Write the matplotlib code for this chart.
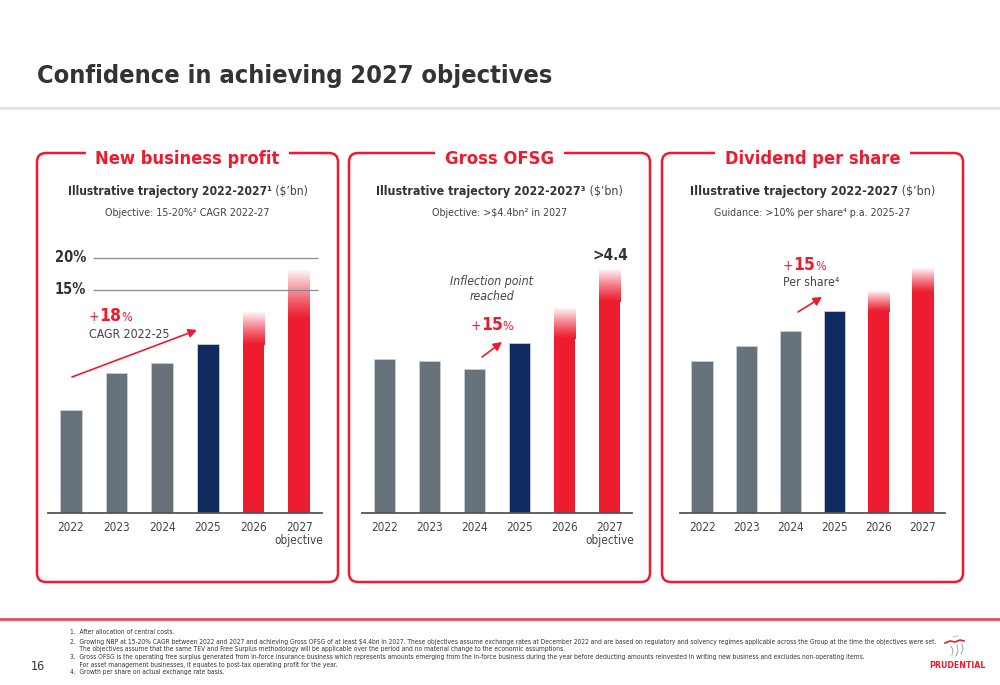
import os
import numpy as np
import matplotlib
matplotlib.use('Agg')
import matplotlib.pyplot as plt
from matplotlib import font_manager as fm
from matplotlib.patches import FancyBboxPatch, FancyArrowPatch
from matplotlib.lines import Line2D
from matplotlib.transforms import IdentityTransform
from matplotlib.colors import to_rgb

# ---------------- data ----------------
years = ['2022', '2023', '2024', '2025', '2026', '2027']
nbp_labels = ['2022', '2023', '2024', '2025', '2026', '2027\nobjective']
ofsg_labels = ['2022', '2023', '2024', '2025', '2026', '2027\nobjective']
dps_labels = ['2022', '2023', '2024', '2025', '2026', '2027']
nbp_values = [2.2, 3.0, 3.2, 3.6, 4.3, 5.2]          # $bn (illustrative)
ofsg_values = [2.79, 2.75, 2.62, 3.08, 3.71, 4.4]    # $bn (illustrative)
dps_values = [19.7, 21.7, 23.6, 26.2, 28.8, 31.8]    # (illustrative)
nbp_cagr_levels = [5.45, 4.77]
nbp_cagr_labels = ['20%', '15%']
bar_kind = ['actual', 'actual', 'actual', 'current', 'target', 'target']

footnotes = [
    "1.  After allocation of central costs.",
    "2.  Growing NBP at 15-20% CAGR between 2022 and 2027 and achieving Gross OFSG of at least $4.4bn in 2027. These objectives assume exchange rates at December 2022 and are based on regulatory and solvency regimes applicable across the Group at the time the objectives were set.",
    "     The objectives assume that the same TEV and Free Surplus methodology will be applicable over the period and no material change to the economic assumptions.",
    "3.  Gross OFSG is the operating free surplus generated from in-force insurance business which represents amounts emerging from the in-force business during the year before deducting amounts reinvested in writing new business and excludes non-operating items.",
    "     For asset management businesses, it equates to post-tax operating profit for the year.",
    "4.  Growth per share on actual exchange rate basis.",
]

# ---------------- style ----------------
W, H = 1000, 685
RED = '#ED1B2E'
GREY = '#67727A'
NAVY = '#0E2A5E'
DARK = '#333333'
MID = '#444444'
kind_color = {'actual': GREY, 'current': NAVY, 'target': RED}

FAM = 'DejaVu Sans'
STRETCH = 'normal'
for f in fm.fontManager.ttflist:
    if 'DejaVuSansCondensed' in os.path.basename(f.fname):
        FAM = f.name
        STRETCH = 'condensed'
        break
plt.rcParams['font.family'] = [FAM, 'DejaVu Sans']
plt.rcParams['font.stretch'] = STRETCH

fig = plt.figure(figsize=(10, 6.85), dpi=100)
fig.patch.set_facecolor('white')
R = fig.canvas.get_renderer()


def fy(y):
    return 1 - y / H


def text(x, y, s, **kw):
    kw.setdefault('fontstretch', STRETCH)
    return fig.text(x / W, fy(y), s, **kw)


def width(t):
    return t.get_window_extent(R).width


def fit(t, w):
    t.set_fontsize(t.get_fontsize() * w / width(t))
    return t


def mixed(x, y, parts, ha='center'):
    ts = [text(0, y, s, va='baseline', **kw) for s, kw in parts]
    ws = [width(t) for t in ts]
    x0 = x - sum(ws) / 2 if ha == 'center' else x
    for t, w in zip(ts, ws):
        t.set_x(x0 / W)
        x0 += w
    return ts


def arrow(p0, p1):
    a = FancyArrowPatch((p0[0], H - p0[1]), (p1[0], H - p1[1]),
                        transform=IdentityTransform(),
                        arrowstyle='-|>,head_length=5,head_width=2.6',
                        color=RED, lw=1.2, shrinkA=0, shrinkB=0,
                        mutation_scale=1)
    fig.add_artist(a)


def pxline(xs, ys, **kw):
    fig.add_artist(Line2D([x / W for x in xs], [fy(y) for y in ys], **kw))


# ---------------- header ----------------
t = text(37, 83, 'Confidence in achieving 2027 objectives', fontsize=20,
         fontweight='bold', color=DARK, va='baseline')
fit(t, 518)
pxline([0, W], [108, 108], color='#DFE4E8', lw=2)

# ---------------- panels ----------------
panels = [
    dict(box=(37, 153, 338, 582), title='New business profit', title_w=185,
         sub=('Illustrative trajectory 2022-2027\u00b9', " ($\u2019bn)"), sub_w=202,
         obj='Objective: 15-20%\u00b2 CAGR 2022-27', obj_w=166,
         ax=(48, 322), values=nbp_values, labels=nbp_labels, ymax=5.83,
         fade=[0, 0, 0, 0, 33, 50]),
    dict(box=(349, 153, 650, 582), title='Gross OFSG', title_w=109,
         sub=('Illustrative trajectory 2022-2027\u00b3', " ($\u2019bn)"), sub_w=209,
         obj='Objective: >$4.4bn\u00b2 in 2027', obj_w=136,
         ax=(362, 632), values=ofsg_values, labels=ofsg_labels, ymax=4.95,
         fade=[0, 0, 0, 0, 31, 32]),
    dict(box=(662, 153, 963, 582), title='Dividend per share', title_w=176,
         sub=('Illustrative trajectory 2022-2027', " ($\u2019bn)"), sub_w=206,
         obj='Guidance: >10% per share\u2074 p.a. 2025-27', obj_w=197,
         ax=(680, 945), values=dps_values, labels=dps_labels, ymax=35.45,
         fade=[0, 0, 0, 0, 21, 25]),
]

AX_TOP, AX_BOT = 240, 513
axes = []
for p in panels:
    x0, y0, x1, y1 = p['box']
    cx = (x0 + x1) / 2
    bx = FancyBboxPatch((x0, H - y1), x1 - x0, y1 - y0,
                        boxstyle='round,pad=0,rounding_size=9',
                        transform=IdentityTransform(), fc='none', ec=RED, lw=1.8,
                        zorder=1)
    fig.add_artist(bx)
    tt = text(cx, 164, p['title'], fontsize=15, fontweight='bold', color=RED,
              ha='center', va='baseline', zorder=5,
              bbox=dict(fc='white', ec='none', pad=8))
    fit(tt, p['title_w'])
    # subtitle
    tb = text(0, 195, p['sub'][0], fontsize=10, fontweight='bold', color=DARK)
    fs = 10 * p['sub_w'] / width(tb)
    tb.remove()
    mixed(cx, 195, [(p['sub'][0], dict(fontsize=fs, fontweight='bold', color=DARK)),
                    (p['sub'][1], dict(fontsize=fs, color=MID))])
    to = text(cx, 216, p['obj'], fontsize=8, color=MID, ha='center', va='baseline')
    fit(to, p['obj_w'])

    # chart axes
    ax = fig.add_axes([p['ax'][0] / W, fy(AX_BOT), (p['ax'][1] - p['ax'][0]) / W,
                       (AX_BOT - AX_TOP) / H])
    ax.patch.set_alpha(0)
    ymax = p['ymax']
    unit = ymax / (AX_BOT - AX_TOP)
    bw = 0.48
    for i, (v, k) in enumerate(zip(p['values'], bar_kind)):
        c = kind_color[k]
        if k == 'target':
            fade = p['fade'][i] * unit
            ax.bar(i, v - fade, width=bw, color=c, zorder=2)
            n = 96
            rgba = np.zeros((n, 1, 4))
            rgba[..., :3] = to_rgb(c)
            s = np.linspace(0, 1, n)
            rgba[:, 0, 3] = 1.0 - 0.96 * s ** 1.2
            ax.imshow(rgba, extent=(i - bw / 2, i + bw / 2, v - fade, v),
                      origin='lower', aspect='auto', interpolation='bilinear',
                      zorder=2)
        else:
            ax.bar(i, v, width=bw, color=c, edgecolor='#C9CED2', lw=0.6, zorder=2)
    ax.set_xlim(-0.5, 5.5)
    ax.set_ylim(0, ymax)
    ax.set_aspect('auto')
    for sp in ['top', 'left', 'right']:
        ax.spines[sp].set_visible(False)
    ax.spines['bottom'].set_color('#555555')
    ax.spines['bottom'].set_linewidth(1.3)
    ax.spines['bottom'].set_zorder(3)
    ax.set_yticks([])
    ax.set_xticks(range(len(p['labels'])))
    ax.set_xticklabels(p['labels'], fontsize=8.5, color=MID, linespacing=1.0,
                       fontstretch=STRETCH)
    ax.tick_params(axis='x', length=0, pad=5.5)
    axes.append(ax)

# ---- panel 1 annotations ----
ax1 = axes[0]
ppu = (panels[0]['ax'][1] - panels[0]['ax'][0]) / 6.0
gx0 = (93 - panels[0]['ax'][0]) / ppu - 0.5
gx1 = (318 - panels[0]['ax'][0]) / ppu - 0.5
lx = (55 - panels[0]['ax'][0]) / ppu - 0.5
for lev, lab in zip(nbp_cagr_levels, nbp_cagr_labels):
    ax1.hlines(lev, gx0, gx1, color='#8A8A8A', lw=0.9, zorder=3)
    ax1.text(lx, lev, lab, fontsize=10.5, fontweight='bold', color=DARK,
             ha='left', va='center', fontstretch=STRETCH)

mixed(89, 321, [('+', dict(fontsize=10, color=RED)),
                ('18', dict(fontsize=12.5, fontweight='bold', color=RED)),
                ('%', dict(fontsize=9, color=RED))], ha='left')
text(89, 334, 'CAGR 2022-25', fontsize=8.8, color=MID, va='center')
arrow((72, 377), (197, 330))

# ---- panel 2 annotations ----
text(492, 281, 'Inflection point', fontsize=8.8, color=MID, ha='center',
     va='center', style='italic')
text(492, 296, 'reached', fontsize=8.8, color=MID, ha='center', va='center',
     style='italic')
mixed(492, 330, [('+', dict(fontsize=10, color=RED)),
                 ('15', dict(fontsize=12.5, fontweight='bold', color=RED)),
                 ('%', dict(fontsize=9, color=RED))])
arrow((482, 357), (502, 342))
text(610, 260, '>4.4', fontsize=11, fontweight='bold', color=DARK, ha='center',
     va='baseline')

# ---- panel 3 annotations ----
mixed(783, 270, [('+', dict(fontsize=10, color=RED)),
                 ('15', dict(fontsize=12.5, fontweight='bold', color=RED)),
                 ('%', dict(fontsize=9, color=RED))], ha='left')
text(783, 282, 'Per share\u2074', fontsize=8.8, color=MID, va='center')
arrow((798, 312), (822, 297))

# ---------------- footer ----------------
pxline([0, W], [619, 619], color='#E8485A', lw=2)
tf = text(70, 642, footnotes[1], fontsize=4, color=DARK, va='center')
fit(tf, 855)
ffs = tf.get_fontsize()
tf.remove()
for yy, line in zip([632, 642, 649, 657, 665, 672], footnotes):
    text(70, yy, line, fontsize=ffs, color=DARK, va='center')
text(38, 667, '16', fontsize=9, color=DARK, ha='center', va='center')
tl = text(957.5, 665, 'PRUDENTIAL', fontsize=8, color=RED, ha='center',
          va='center', fontweight='bold')
fit(tl, 56)
# small logo sketch (decorative strokes)
pxline([945, 950, 955, 960, 964], [643, 641, 642, 640, 641], color=RED, lw=1.2)
pxline([951, 953, 952], [646, 650, 655], color='#9AA0A6', lw=0.7)
pxline([957, 958, 956], [645, 651, 656], color='#9AA0A6', lw=0.7)
pxline([962, 963, 961], [644, 649, 654], color='#9AA0A6', lw=0.7)
pxline([953, 958], [637, 636], color='#B0B5BA', lw=0.6)

fig.savefig('out.png', dpi=100, facecolor='white')
